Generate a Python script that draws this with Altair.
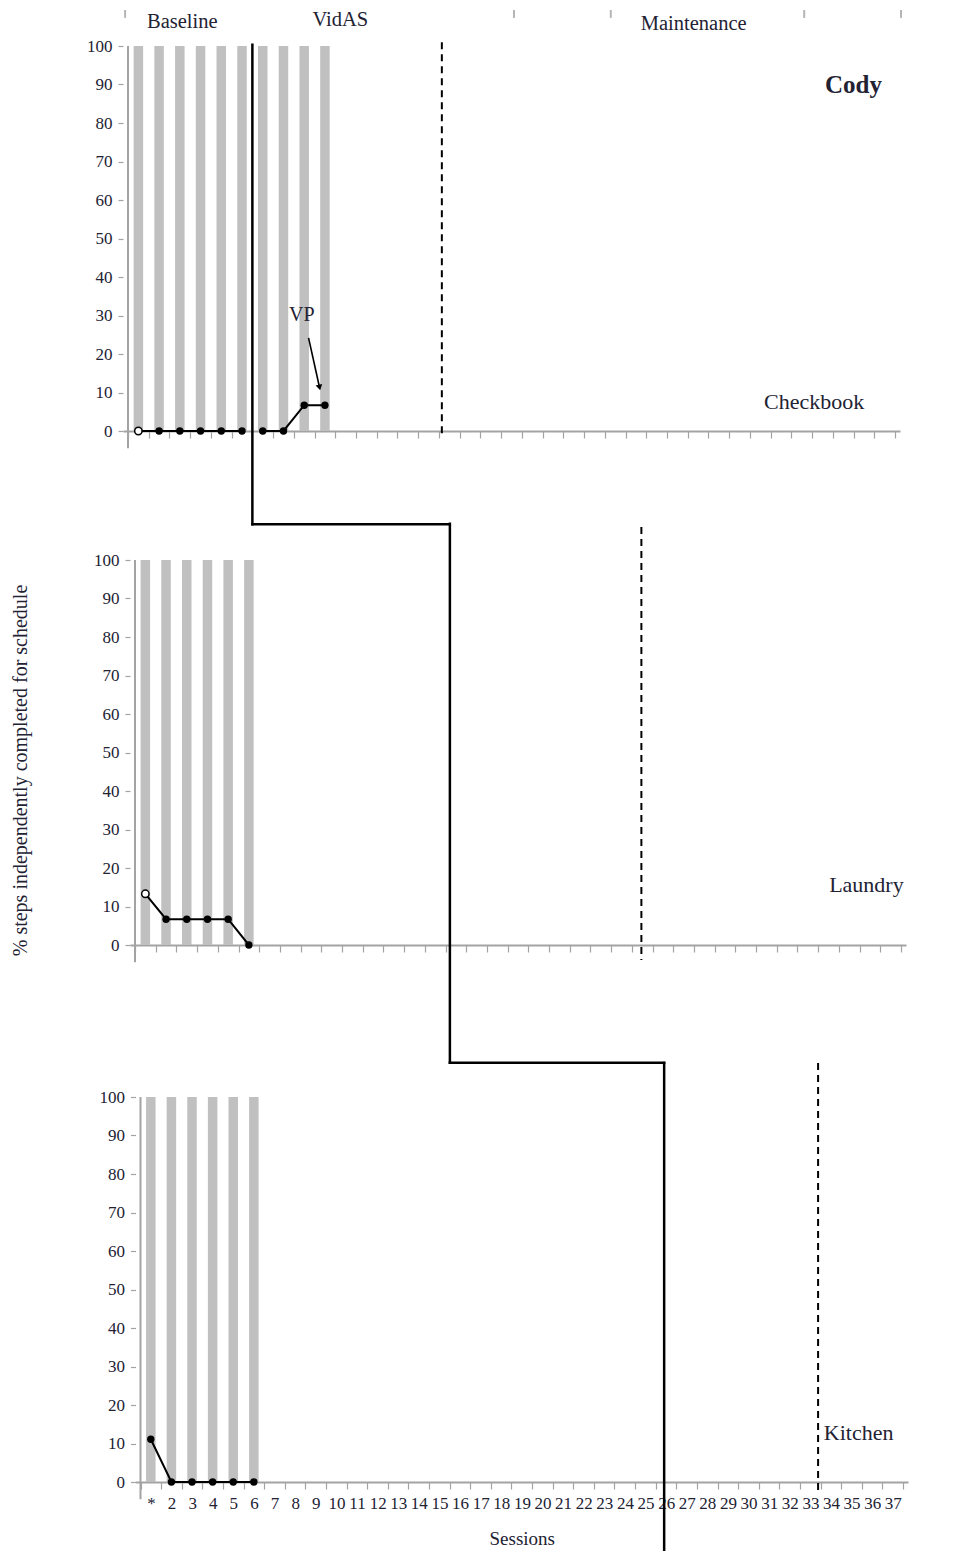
import json
import altair as alt
import pandas as pd

FONT = "Liberation Serif"
INK = "#222233"
AXIS_GRAY = "#a3a3a3"
BAR_GRAY = "#c0c0c0"

# ---------------- data ----------------
session_labels = ["*"] + [str(i) for i in range(2, 38)]
y_ticks = [0, 10, 20, 30, 40, 50, 60, 70, 80, 90, 100]
x_ticks = [i + 0.5 for i in range(0, 38)]          # category boundaries

checkbook_sessions = [1, 2, 3, 4, 5, 6, 7, 8, 9, 10]
checkbook_values = [0, 0, 0, 0, 0, 0, 0, 0, 6.7, 6.7]
checkbook_phase = ["Baseline"] * 6 + ["VidAS"] * 4
checkbook_open = [True] + [False] * 9
checkbook_bars = [1, 2, 3, 4, 5, 6, 7, 8, 9, 10]

laundry_sessions = [1, 2, 3, 4, 5, 6]
laundry_values = [13.3, 6.7, 6.7, 6.7, 6.7, 0]
laundry_phase = ["Baseline"] * 6
laundry_open = [True, False, False, False, False, False]
laundry_bars = [1, 2, 3, 4, 5, 6]

kitchen_sessions = [1, 2, 3, 4, 5, 6]
kitchen_values = [11.1, 0, 0, 0, 0, 0]
kitchen_phase = ["Baseline"] * 6
kitchen_open = [False] * 6
kitchen_bars = [1, 2, 3, 4, 5, 6]

# phase-change staircase (session units, percent units of each panel)
checkbook_solid = {"x": [6.5, 6.5], "x2": [6.5, 16.02], "y": [100.3, -24.2], "y2": [-24.2, -24.2]}
laundry_solid = {"x": [15.71, 15.71], "x2": [15.71, 26.06], "y": [109.4, -30.6], "y2": [-30.6, -30.6]}
kitchen_solid = {"x": [25.91], "x2": [25.91], "y": [108.8], "y2": [-17.9]}
checkbook_dash = {"x": [15.64], "y": [101.0], "y2": [-1.8]}
laundry_dash = {"x": [24.96], "y": [108.6], "y2": [-3.9]}
kitchen_dash = {"x": [33.38], "y": [108.8], "y2": [-2.1]}

phase_names = ["Baseline", "VidAS", "Maintenance"]
phase_name_x = [3.12, 10.74, 27.79]
phase_name_y = [106.2, 106.75, 105.7]

top_marks_x = [0.36, 19.12, 23.79, 33.12, 37.79]

# ---------------- panels ----------------
def panel(sessions, values, phase, is_open, bars, solid, dash, labels,
          rng, show_xlabels, ytitle, extra=None):
    shift, right = rng
    px_per = (right - shift) / 37.0
    xs = alt.Scale(domain=[0.5, 37.5], range=[shift, right], nice=False, zero=False)
    ys = alt.Scale(domain=[0, 100], nice=False, zero=False)

    xaxis_kw = dict(values=x_ticks, domain=True, domainColor=AXIS_GRAY, domainWidth=2,
                    ticks=True, tickColor=AXIS_GRAY, tickSize=7, tickWidth=1.2,
                    grid=False, labelOverlap=False, labelFlush=False)
    if show_xlabels:
        xaxis_kw.update(labels=True,
                        labelExpr=json.dumps(session_labels) + "[floor(datum.value)] || ''",
                        labelOffset=px_per / 2, labelFont=FONT, labelFontSize=17,
                        labelColor=INK, labelPadding=6,
                        title="Sessions", titleFont=FONT, titleFontSize=19,
                        titleFontWeight="normal", titleColor=INK, titlePadding=18)
    else:
        xaxis_kw.update(labels=False, title="")
    x_axis = alt.Axis(**xaxis_kw)

    yaxis_kw = dict(values=y_ticks, domain=False, ticks=True, tickColor=AXIS_GRAY,
                    tickSize=5, tickWidth=1.2, grid=False, labelFont=FONT,
                    labelFontSize=17, labelColor=INK, labelPadding=6, offset=-shift)
    if ytitle:
        yaxis_kw.update(title=ytitle, titleFont=FONT, titleFontSize=20,
                        titleFontWeight="normal", titleColor=INK, titleAngle=270,
                        titleX=-110, titleY=210, titleAlign="center",
                        titleBaseline="middle")
    else:
        yaxis_kw.update(title="")
    y_axis = alt.Axis(**yaxis_kw)

    def X(f):
        return alt.X(f, type="quantitative", scale=xs, axis=x_axis)

    def Y(f):
        return alt.Y(f, type="quantitative", scale=ys, axis=y_axis)

    bars_df = pd.DataFrame({"session": bars, "top": 100, "bottom": 0})
    data_df = pd.DataFrame({"session": sessions, "pct": values, "phase": phase, "open": is_open})

    layers = []
    layers.append(alt.Chart(bars_df).mark_bar(size=9.5, color=BAR_GRAY).encode(
        x=X("session"), y=Y("top"), y2="bottom"))
    layers.append(alt.Chart(pd.DataFrame({"x": [0.5], "y": [-4.5], "y2": [100]}))
                  .mark_rule(color=AXIS_GRAY, strokeWidth=2)
                  .encode(x=X("x"), y=Y("y"), y2="y2"))
    layers.append(alt.Chart(data_df).mark_line(color="black", strokeWidth=2).encode(
        x=X("session"), y=Y("pct"), detail="phase:N"))
    layers.append(alt.Chart(data_df).transform_filter("!datum.open")
                  .mark_circle(size=55, color="black", opacity=1)
                  .encode(x=X("session"), y=Y("pct")))
    layers.append(alt.Chart(data_df).transform_filter("datum.open")
                  .mark_circle(size=55, fill="white", stroke="black", strokeWidth=1.5, opacity=1)
                  .encode(x=X("session"), y=Y("pct")))
    layers.append(alt.Chart(pd.DataFrame(solid))
                  .mark_rule(color="black", strokeWidth=2.5, strokeCap="square")
                  .encode(x=X("x"), x2="x2", y=Y("y"), y2="y2"))
    layers.append(alt.Chart(pd.DataFrame(dash))
                  .mark_rule(color="black", strokeWidth=2, strokeDash=[7, 5])
                  .encode(x=X("x"), y=Y("y"), y2="y2"))
    for lab in labels:
        df = pd.DataFrame({"x": lab["x"], "y": lab["y"], "t": lab["t"]})
        layers.append(alt.Chart(df).mark_text(font=FONT, color=INK, fontSize=lab["fs"],
                                              fontWeight=lab.get("fw", "normal"),
                                              align="center", baseline="middle")
                      .encode(x=X("x"), y=Y("y"), text="t:N"))
    if extra:
        for e in extra:
            layers.extend(e(X, Y))
    return alt.layer(*layers).properties(width=right, height=385)


def vp_arrow(X, Y):
    shaft = alt.Chart(pd.DataFrame({"x": [9.21], "x2": [9.74], "y": [24.2], "y2": [11.3]})) \
        .mark_rule(color="black", strokeWidth=1.6).encode(x=X("x"), x2="x2", y=Y("y"), y2="y2")
    head = alt.Chart(pd.DataFrame({"x": [9.74], "y": [11.3]})) \
        .mark_point(shape="triangle-down", angle=347.5, filled=True, color="black",
                    size=45, opacity=1).encode(x=X("x"), y=Y("y"))
    return [shaft, head]


def top_marks(X, Y):
    df = pd.DataFrame({"x": top_marks_x, "y": [109.35] * len(top_marks_x),
                       "y2": [107.3] * len(top_marks_x)})
    return [alt.Chart(df).mark_rule(color="#b5b5b5", strokeWidth=2).encode(
        x=X("x"), y=Y("y"), y2="y2")]


def bounds_marker(X, Y):
    return [alt.Chart(pd.DataFrame({"a": [0]})).mark_rule(strokeOpacity=0, opacity=0).encode(
        x=alt.value(-115), x2=alt.value(-115), y=alt.value(-38), y2=alt.value(-38))]


p1 = panel(checkbook_sessions, checkbook_values, checkbook_phase, checkbook_open, checkbook_bars,
           checkbook_solid, checkbook_dash,
           [dict(x=phase_name_x, y=phase_name_y, t=phase_names, fs=20.5),
            dict(x=[35.5], y=[89.9], t=["Cody"], fs=25, fw="bold"),
            dict(x=[33.6], y=[7.5], t=["Checkbook"], fs=22),
            dict(x=[8.88], y=[30.1], t=["VP"], fs=20)],
           (0, 777), False, None, extra=[vp_arrow, top_marks, bounds_marker])

p2 = panel(laundry_sessions, laundry_values, laundry_phase, laundry_open, laundry_bars,
           laundry_solid, laundry_dash,
           [dict(x=[35.83], y=[15.6], t=["Laundry"], fs=22)],
           (7, 783), False, "% steps independently completed for schedule")

p3 = panel(kitchen_sessions, kitchen_values, kitchen_phase, kitchen_open, kitchen_bars,
           kitchen_solid, kitchen_dash,
           [dict(x=[35.35], y=[12.7], t=["Kitchen"], fs=22)],
           (12.5, 785), True, None)


def spacer(h):
    return alt.Chart(pd.DataFrame({"a": [0]})).mark_point(opacity=0).encode(
        x=alt.value(0), y=alt.value(0)).properties(width=10, height=h)


chart = alt.vconcat(p1, spacer(129), p2, spacer(152), p3, spacing=0, bounds="flush") \
    .properties(padding=0, background="white") \
    .configure_view(stroke=None)

chart.save("out.html", embed_options={"renderer": "svg", "actions": False})
